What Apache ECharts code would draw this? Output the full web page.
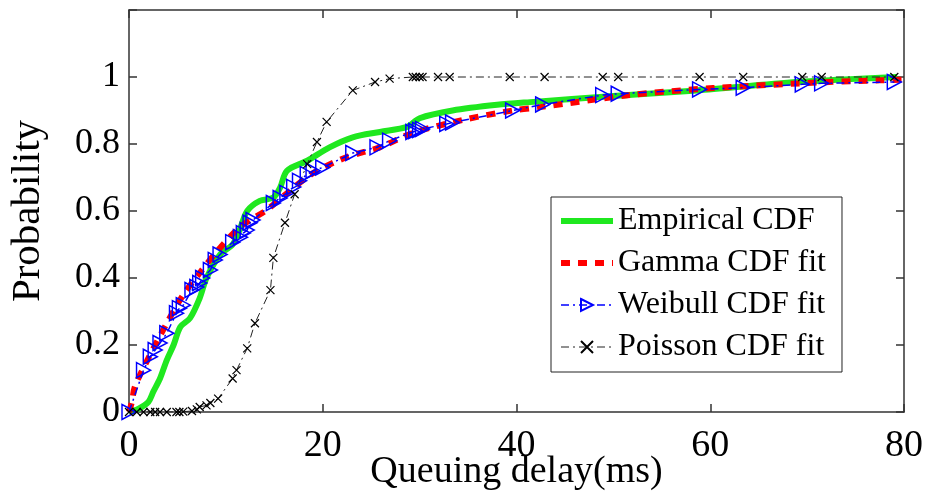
<!DOCTYPE html>
<html>
<head>
<meta charset="utf-8">
<script src="https://cdn.jsdelivr.net/npm/echarts@6/dist/echarts.min.js"></script>
<style>html,body{margin:0;padding:0;background:#fff}#c{width:925px;height:493px}</style>
</head>
<body>
<div id="c"></div>
<script>
// ---- data ----
const seriesNames = ['Empirical CDF', 'Gamma CDF fit', 'Weibull CDF fit', 'Poisson CDF fit'];
const xTicks = [0, 20, 40, 60, 80];
const yTicks = [0, 0.2, 0.4, 0.6, 0.8, 1];

const empX = [0, 1, 2, 2.5, 3.2, 3.9, 4.6, 5.3, 6.3, 7.3, 8.0, 9.4, 10.7, 11.5, 12.2, 13.5, 14.9, 15.6, 16.3, 18.4, 20.7, 23.1, 25.9, 28.7, 30, 33.4, 38, 41.4, 50, 58.6, 69, 79.3];
const empY = [0, 0.01, 0.03, 0.06, 0.1, 0.155, 0.2, 0.254, 0.28, 0.34, 0.40, 0.47, 0.50, 0.55, 0.60, 0.63, 0.64, 0.67, 0.72, 0.75, 0.79, 0.82, 0.836, 0.851, 0.877, 0.90, 0.917, 0.925, 0.943, 0.96, 0.985, 1.0];

const gamX = [0, 0.3, 0.6, 1.9, 3.9, 5.6, 7.3, 9.1, 11.5, 14.2, 16.3, 19, 22.5, 25.9, 29.3, 34.5, 39.6, 42.4, 51.7, 60.3, 72.3, 77.5, 80];
const gamY = [0, 0.03, 0.075, 0.155, 0.265, 0.35, 0.415, 0.48, 0.553, 0.603, 0.653, 0.713, 0.761, 0.79, 0.833, 0.872, 0.90, 0.91, 0.946, 0.967, 0.985, 0.99, 0.992];

const weiX = [0, 1.5, 2.2, 2.7, 3.2, 3.9, 4.9, 5.2, 5.6, 6.5, 7.0, 7.3, 7.6, 8.4, 8.9, 9.4, 10.7, 11.5, 11.8, 12.2, 12.5, 12.8, 14.9, 15.6, 16.3, 17.0, 17.6, 18.4, 19.0, 20.0, 23.1, 25.6, 26.9, 29.3, 29.6, 30.0, 30.3, 32.8, 33.4, 39.6, 42.7, 48.9, 50.5, 58.9, 63.4, 69.5, 71.5, 79];
const weiY = [0, 0.125, 0.165, 0.185, 0.206, 0.235, 0.295, 0.31, 0.319, 0.364, 0.373, 0.385, 0.40, 0.424, 0.454, 0.47, 0.507, 0.522, 0.534, 0.543, 0.565, 0.573, 0.624, 0.639, 0.654, 0.672, 0.69, 0.71, 0.72, 0.73, 0.773, 0.79, 0.81, 0.836, 0.839, 0.842, 0.845, 0.86, 0.864, 0.90, 0.918, 0.946, 0.95, 0.963, 0.968, 0.978, 0.981, 0.985];

const poiX = [0, 0.8, 1.5, 2.2, 2.7, 3.2, 3.9, 4.9, 5.2, 5.6, 6.5, 7.0, 7.3, 8.0, 8.4, 9.2, 10.7, 11.1, 12.2, 13.0, 14.6, 14.9, 16.1, 17.1, 18.4, 19.4, 20.4, 23.1, 25.4, 26.9, 29.3, 29.6, 30.0, 30.3, 31.9, 33.1, 39.3, 42.9, 48.9, 50.5, 58.9, 63.4, 69.5, 71.5, 79];
const poiY = [0, 0, 0, 0, 0, 0, 0, 0, 0, 0.001, 0.003, 0.008, 0.015, 0.02, 0.027, 0.04, 0.1, 0.125, 0.19, 0.265, 0.364, 0.46, 0.565, 0.65, 0.74, 0.806, 0.866, 0.96, 0.985, 0.995, 1, 1, 1, 1, 1, 1, 1, 1, 1, 1, 1, 1, 1, 1, 1];

const pair = (xs, ys) => xs.map((x, i) => [x, ys[i]]);

const FONT = "'Liberation Serif', 'Times New Roman', serif";
const AXC = '#333';
const CLEAR = 'rgba(0,0,0,0)';

const chart = echarts.init(document.getElementById('c'), null, {renderer: 'canvas'});
const triRight = 'path://M0,0 L10,5 L0,10 Z';
const cross = 'path://M0,0 L10,10 M10,0 L0,10';

chart.setOption({
  animation: false,
  backgroundColor: '#fff',
  grid: {left: 129, right: 21, top: 10, bottom: 81, containLabel: false, outerBoundsMode: 'none'},
  legend: {
    data: [
      {name: seriesNames[0], lineStyle: {width: 6}, itemStyle: {color: CLEAR, borderColor: CLEAR, borderWidth: 0}},
      {name: seriesNames[1], lineStyle: {width: 6}, itemStyle: {color: CLEAR, borderColor: CLEAR, borderWidth: 0}},
      {name: seriesNames[2], lineStyle: {width: 1.5}},
      {name: seriesNames[3], lineStyle: {width: 1}}
    ],
    orient: 'vertical',
    left: 551, top: 197,
    itemWidth: 52, itemHeight: 15, itemGap: 10,
    padding: [8, 16, 9, 7],
    borderColor: '#222', borderWidth: 1,
    backgroundColor: '#fff',
    textStyle: {fontFamily: FONT, fontSize: 32, color: '#000'},
    selectedMode: false
  },
  xAxis: [{
    type: 'value', min: xTicks[0], max: xTicks[xTicks.length - 1], interval: 20,
    name: 'Queuing delay(ms)', nameLocation: 'middle', nameGap: 41, nameMoveOverlap: false,
    nameTextStyle: {fontFamily: FONT, fontSize: 38, color: '#000'},
    axisLine: {onZero: false, lineStyle: {color: AXC, width: 1.5}},
    axisTick: {inside: true, length: 8, lineStyle: {color: AXC, width: 1.5}},
    axisLabel: {fontFamily: FONT, fontSize: 38, color: '#000', margin: 15},
    splitLine: {show: false}
  }, {
    type: 'value', position: 'top', min: 0, max: 80, interval: 20,
    axisLine: {onZero: false, lineStyle: {color: AXC, width: 1.5}},
    axisTick: {inside: true, length: 8, lineStyle: {color: AXC, width: 1.5}},
    axisLabel: {show: false}, splitLine: {show: false}
  }],
  yAxis: [{
    type: 'value', min: 0, max: 1.2, interval: 0.2,
    name: 'Probability', nameLocation: 'middle', nameGap: 80, nameMoveOverlap: false,
    nameTextStyle: {fontFamily: FONT, fontSize: 41, color: '#000'},
    axisLine: {onZero: false, lineStyle: {color: AXC, width: 1.5}},
    axisTick: {inside: true, length: 8, lineStyle: {color: AXC, width: 1.5}},
    axisLabel: {fontFamily: FONT, fontSize: 36, color: '#000', margin: 9,
      formatter: v => (yTicks.some(t => Math.abs(t - v) < 1e-6) ? String(+v.toFixed(1)) : '')},
    splitLine: {show: false}
  }, {
    type: 'value', position: 'right', min: 0, max: 1.2, interval: 0.2,
    axisLine: {onZero: false, lineStyle: {color: AXC, width: 1.5}},
    axisTick: {inside: true, length: 8, lineStyle: {color: AXC, width: 1.5}},
    axisLabel: {show: false}, splitLine: {show: false}
  }],
  series: [
    {
      name: seriesNames[0], type: 'line', data: pair(empX, empY), smooth: 0.3,
      showSymbol: false, symbol: 'none',
      lineStyle: {color: '#1fe81f', width: 6},
      itemStyle: {color: '#1fe81f'}
    },
    {
      name: seriesNames[1], type: 'line', data: pair(gamX, gamY), smooth: 0.3,
      showSymbol: false, symbol: 'none',
      lineStyle: {color: '#ff0000', width: 6, type: [9, 8], cap: 'butt'},
      itemStyle: {color: '#ff0000'}
    },
    {
      name: seriesNames[2], type: 'line', data: pair(weiX, weiY),
      symbol: triRight, symbolSize: [14, 15], showAllSymbol: true,
      lineStyle: {color: '#0000ff', width: 1.5, type: [8, 4, 2, 4]},
      itemStyle: {color: CLEAR, borderColor: '#0000ff', borderWidth: 1.5}
    },
    {
      name: seriesNames[3], type: 'line', data: pair(poiX, poiY),
      symbol: cross, symbolSize: 8, showAllSymbol: true,
      lineStyle: {color: '#222', width: 1, type: [8, 4, 2, 4]},
      itemStyle: {color: CLEAR, borderColor: '#000', borderWidth: 1.2}
    }
  ]
});
</script>
</body>
</html>
